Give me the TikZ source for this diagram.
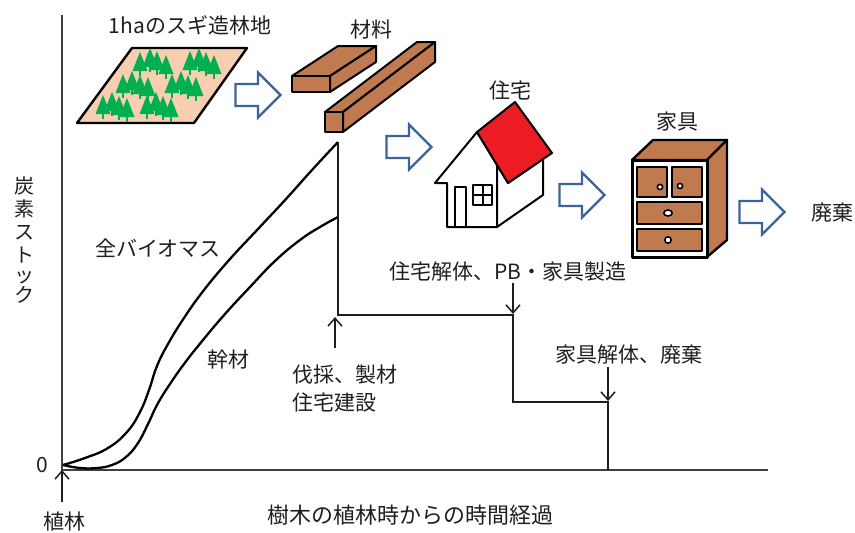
\documentclass[tikz,border=0pt]{standalone}
\usepackage{fontspec}
\setmainfont{Noto Sans CJK JP}
\usetikzlibrary{arrows.meta}
\definecolor{peach}{RGB}{248,206,176}
\definecolor{cedar}{RGB}{0,176,80}
\definecolor{wood}{RGB}{192,122,80}
\definecolor{roofred}{RGB}{237,28,36}
\definecolor{flowblue}{RGB}{58,100,155}
\definecolor{ink}{RGB}{30,30,30}

\begin{document}
\begin{tikzpicture}[x=1pt,y=-1pt,
  lbl/.style={font=\fontsize{21}{28}\selectfont, inner sep=0pt, text=ink},
  axisline/.style={line width=1.4pt, draw=ink!85},
  growth/.style={line width=2.3pt, line join=round},
  stepline/.style={line width=1.4pt, draw=ink},
  pointer/.style={line width=1.5pt, draw=ink, -{Straight Barb[length=8pt,width=14pt]}},
  outline/.style={draw=black, line width=2pt, line join=round},
  cedar tree/.pic={
    \fill[cedar] (0,0) -- (7.5,19) -- (-7.5,19) -- cycle;
    \draw[cedar, line width=1.6pt] (0,18) -- (0,24);
  },
  flow/.pic={
    \draw[flowblue, fill=white, line width=2.4pt, line join=miter]
      (-22.5,-11) -- (0,-11) -- (0,-22.5) -- (22.5,0) -- (0,22.5) -- (0,11) -- (-22.5,11) -- cycle;
  }
]
\useasboundingbox (0,0) rectangle (855,533);

% ---------- forest plot ----------
\draw[outline, fill=peach, line width=2.4pt] (132,48) -- (247,48) -- (194,123) -- (77,123) -- cycle;
\foreach \x/\y in {140/52,150/48,157/51,166/55,
                   190/51,199/48,206/52,214/55,
                   123/74,132/71,140/75,148/77,
                   172/74,181/71,188/75,196/77,
                   103/95,112/92,119/96,127/98,
                   147/95,156/92,163/96,171/98}
  \pic at (\x,\y) {cedar tree};

% ---------- lumber ----------
\draw[outline, fill=wood] (292,76) -- (338,46) -- (376,46) -- (330,76) -- cycle;
\draw[outline, fill=wood] (330,76) -- (376,46) -- (376,62) -- (330,92) -- cycle;
\draw[outline, fill=wood] (292,76) rectangle (330,92);
\draw[outline, fill=wood] (325,112) -- (417,42) -- (435,42) -- (343,112) -- cycle;
\draw[outline, fill=wood] (343,112) -- (435,42) -- (435,62) -- (343,132) -- cycle;
\draw[outline, fill=wood] (325,112) rectangle (343,132);

% ---------- house ----------
\draw[outline, fill=white] (477,132) -- (435,183) -- (447,183) -- (447,227) -- (497,227) -- (497,165) -- cycle;
\draw[outline, fill=white] (497,165) -- (508,183) -- (543,159) -- (543,195) -- (497,227) -- cycle;
\draw[outline, fill=roofred] (477,132) -- (515,102) -- (552,153) -- (508,183) -- cycle;
\draw[outline] (455,187) rectangle (466,227);
\draw[outline] (473,185) rectangle (492,205);
\draw[outline] (482.5,185) -- (482.5,205) (473,195) -- (492,195);

% ---------- chest of drawers ----------
\draw[outline, fill=wood, line width=2.4pt] (632,160) -- (653,140) -- (727,140) -- (707,160) -- cycle;
\draw[outline, fill=wood, line width=2.4pt] (707,160) -- (727,140) -- (727,240) -- (707,257) -- cycle;
\draw[outline, fill=white, line width=3pt] (632,160) rectangle (707,257);
\foreach \a/\b in {637/167, 672/167}
  \draw[outline, fill=wood, line width=2.4pt] (\a,\b) rectangle ++(30,30);
\draw[outline, fill=wood, line width=2.4pt] (637,202) rectangle (702,224);
\draw[outline, fill=wood, line width=2.4pt] (637,229) rectangle (702,251);
\draw[black, fill=white, line width=1.6pt] (660,187) circle[radius=2.6];
\draw[black, fill=white, line width=1.6pt] (680,186) circle[radius=2.6];
\draw[black, fill=white, line width=1.6pt] (668,213) ellipse[x radius=4.2, y radius=3];
\draw[black, fill=white, line width=1.6pt] (668,240) circle[radius=3.2];

% ---------- flow arrows ----------
\pic at (258,95) {flow};
\pic at (409,147) {flow};
\pic at (582,195) {flow};
\pic at (762,212) {flow};

% ---------- picture captions ----------
\node[lbl] (forestlab) at (190,25) {1haのスギ造林地};
\node[lbl] (lumberlab) at (371,30) {材料};
\node[lbl] (houselab) at (510,90) {住宅};
\node[lbl] (chestlab) at (677,122) {家具};
\node[lbl] (wastelab) at (832,213) {廃棄};

% ---------- axes ----------
\coordinate (top) at (62,15);
\coordinate (O) at (62,470);
\coordinate (xend) at (768,470);
\draw[axisline] (top) -- (O) -- (xend);
\node[lbl, align=center, font=\fontsize{20}{23}\selectfont] (ylab) at (25,240)
  {炭\\素\\ス\\ト\\[-3pt]ッ\\[-3pt]ク};
\node[lbl] (zero) at (42,465) {0};
\node[lbl] (plantlab) at (64,522) {植林};
\node[lbl, font=\fontsize{22}{28}\selectfont] (timelab) at (410,515) {樹木の植林時からの時間経過};

% ---------- carbon stock curves ----------
\draw[growth] plot[smooth, tension=0.75] coordinates {
  (63,465) (85,458) (108,448) (127,432) (140,412) (149,390) (157,366)
  (168,344) (184,318) (204,290) (230,259) (258,229) (286,199) (312,170) (338,142)};
\draw[growth] plot[smooth, tension=0.75] coordinates {
  (63,465) (80,468) (97,468) (112,465) (126,457) (138,443) (148,424)
  (157,405) (168,387) (184,364) (203,340) (225,314) (250,287) (275,261)
  (300,240) (320,227) (338,217)};
\node[lbl] (totallab) at (158,248) {全バイオマス};
\node[lbl] (stemlab) at (228,360) {幹材};

% ---------- stock after harvest ----------
\coordinate (peak) at (338,142);
\coordinate (cut) at (338,315);
\coordinate (demo) at (513,315);
\coordinate (demolow) at (513,402);
\coordinate (dispose) at (608,402);
\coordinate (gone) at (608,470);
\draw[stepline] (peak) -- (cut) -- (demo) -- (demolow) -- (dispose) -- (gone);

\node[lbl, align=left, anchor=west] (harvestlab) at (292,389) {伐採、製材\\住宅建設};
\node[lbl] (demolab) at (508,272) {住宅解体、PB・家具製造};
\node[lbl] (disposelab) at (629,355) {家具解体、廃棄};

% ---------- event pointers ----------
\coordinate (planttail) at (62,502);
\coordinate (harvesttail) at (335,348);
\coordinate (harvesttip) at (335,317);
\coordinate (demotail) at (513,283);
\coordinate (demotip) at (513,314);
\coordinate (disposetail) at (608,367);
\coordinate (disposetip) at (608,401);
\draw[pointer] (planttail) -- (O);
\draw[pointer] (harvesttail) -- (harvesttip);
\draw[pointer] (demotail) -- (demotip);
\draw[pointer] (disposetail) -- (disposetip);
\end{tikzpicture}
\end{document}
